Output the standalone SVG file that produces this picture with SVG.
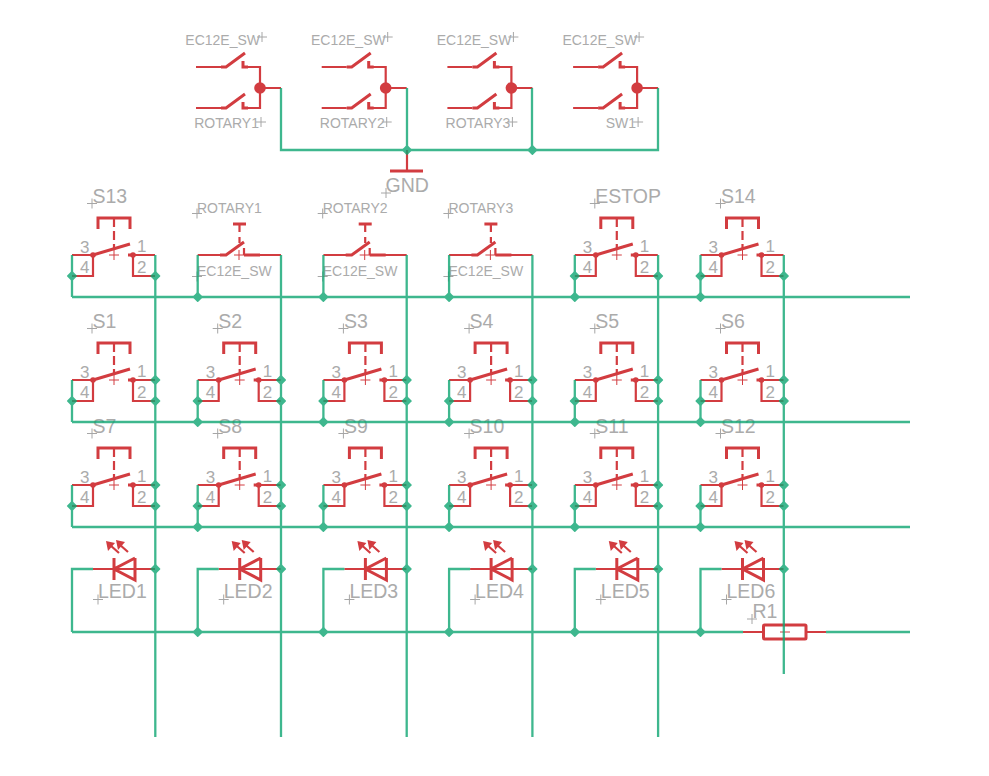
<svg xmlns="http://www.w3.org/2000/svg" width="989" height="776" viewBox="0 0 989 776">
<style>
.r{fill:none;stroke:#D23C40;stroke-width:2.2}
.t{fill:none;stroke:#D23C40;stroke-width:3}
.f{fill:#D23C40;stroke:none}
.c{fill:none;stroke:#A6A6A6;stroke-width:1}
.rc{fill:none;stroke:#D23C40;stroke-width:1}
text{fill:#ABABAB;font-family:"Liberation Sans",Arial,sans-serif}
.n{font-size:19.500px}
.s{font-size:14px}
.p{font-size:17px}
.e{text-anchor:end}
.w{fill:none;stroke:#0FA673;stroke-width:2.3}
.j{fill:#0FA673}
</style>
<defs>
<g id="sw">
<path class="r" d="M72 255H93V276H72M155 255H133V276H155"/>
<path class="t" d="M93 255L130 244M128 255H133M98 229V218H130V229"/>
<path class="r" stroke-dasharray="9 4" d="M114 218V250"/>
<circle class="f" cx="93" cy="255" r="2.800"/><circle class="f" cx="133" cy="255" r="2.800"/>
<path class="rc" d="M109 255H119M114 250V260"/>
<path class="c" d="M87 203.500H97M92 198.500V208.500"/>
</g>
<g id="rot">
<path class="r" d="M197.700 255H226M244 255H281M239.500 224V232M239.500 237V243M244 248V255"/>
<path class="t" d="M220 255H226L244 242M244 255H260M233 224H246"/>
<path class="rc" d="M234 255H244M239 250V260"/>
<path class="c" d="M192 213.500H202M197 208.500V218.500M192 276.500H202M197 271.500V281.500"/>
</g>
<g id="top">
<path class="r" d="M196 67H221M196 108H221M243 67H260V108H243M260 88H281"/>
<path class="t" d="M221 67H226L245 53M221 108H226L245 94M243 61V67H248M243 102V108H248"/>
<circle class="f" cx="260" cy="88" r="5.800"/>
<path class="c" d="M257 37H267M262 32V42M256 122H266M261 117V127"/>
</g>
<g id="led">
<path class="r" d="M93 569H155"/>
<path class="t" d="M114 558V580M135 558V580L114 569L135 558"/>
<path class="r" d="M119 553L110 545M128 552L119 544"/>
<path class="f" d="M106 541L115 543L108 551ZM116 540L125 542L118 550Z"/>
<path class="c" d="M93 599.500H103M98 594.500V604.500"/>
</g>
<rect id="jn" class="j" x="-3.800" y="-3.800" width="7.600" height="7.600" rx="0.800" transform="rotate(45)"/>
</defs>

<g id="SW-top">
<g id="ROTARY1-top"><use href="#top"/><text class="s e" x="260" y="45">EC12E_SW</text><text class="s e" x="259" y="128">ROTARY1</text></g>
<g id="ROTARY2-top" transform="translate(125.700,0)"><use href="#top"/><text class="s e" x="260" y="45">EC12E_SW</text><text class="s e" x="259" y="128">ROTARY2</text></g>
<g id="ROTARY3-top" transform="translate(251.400,0)"><use href="#top"/><text class="s e" x="260" y="45">EC12E_SW</text><text class="s e" x="259" y="128">ROTARY3</text></g>
<g id="SW1-top" transform="translate(377.100,0)"><use href="#top"/><text class="s e" x="260" y="45">EC12E_SW</text><text class="s e" x="259" y="128">SW1</text></g>
</g>

<g id="GND"><path class="r" d="M407 150V171"/><path class="t" d="M390 171H423"/><path class="c" d="M381 193H391M386 188V198"/><text class="n" x="385.500" y="192">GND</text></g>

<g id="S13"><use href="#sw"/><text class="n" x="92.500" y="203">S13</text><text class="p" x="80" y="253">3</text><text class="p" x="137" y="252">1</text><text class="p" x="80" y="273">4</text><text class="p" x="137" y="273">2</text></g>
<g id="ROT1"><use href="#rot"/><text class="s" x="197" y="213">ROTARY1</text><text class="s" x="197" y="276">EC12E_SW</text></g>
<g id="ROT2" transform="translate(125.700,0)"><use href="#rot"/><text class="s" x="197" y="213">ROTARY2</text><text class="s" x="197" y="276">EC12E_SW</text></g>
<g id="ROT3" transform="translate(251.400,0)"><use href="#rot"/><text class="s" x="197" y="213">ROTARY3</text><text class="s" x="197" y="276">EC12E_SW</text></g>
<g id="ESTOP" transform="translate(502.800,0)"><use href="#sw"/><text class="n" x="92.500" y="203">ESTOP</text><text class="p" x="80" y="253">3</text><text class="p" x="137" y="252">1</text><text class="p" x="80" y="273">4</text><text class="p" x="137" y="273">2</text></g>
<g id="S14" transform="translate(628.500,0)"><use href="#sw"/><text class="n" x="92.500" y="203">S14</text><text class="p" x="80" y="253">3</text><text class="p" x="137" y="252">1</text><text class="p" x="80" y="273">4</text><text class="p" x="137" y="273">2</text></g>

<g id="S1" transform="translate(0,125)"><use href="#sw"/><text class="n" x="92.500" y="203">S1</text><text class="p" x="80" y="253">3</text><text class="p" x="137" y="252">1</text><text class="p" x="80" y="273">4</text><text class="p" x="137" y="273">2</text></g>
<g id="S2" transform="translate(125.700,125)"><use href="#sw"/><text class="n" x="92.500" y="203">S2</text><text class="p" x="80" y="253">3</text><text class="p" x="137" y="252">1</text><text class="p" x="80" y="273">4</text><text class="p" x="137" y="273">2</text></g>
<g id="S3" transform="translate(251.400,125)"><use href="#sw"/><text class="n" x="92.500" y="203">S3</text><text class="p" x="80" y="253">3</text><text class="p" x="137" y="252">1</text><text class="p" x="80" y="273">4</text><text class="p" x="137" y="273">2</text></g>
<g id="S4" transform="translate(377.100,125)"><use href="#sw"/><text class="n" x="92.500" y="203">S4</text><text class="p" x="80" y="253">3</text><text class="p" x="137" y="252">1</text><text class="p" x="80" y="273">4</text><text class="p" x="137" y="273">2</text></g>
<g id="S5" transform="translate(502.800,125)"><use href="#sw"/><text class="n" x="92.500" y="203">S5</text><text class="p" x="80" y="253">3</text><text class="p" x="137" y="252">1</text><text class="p" x="80" y="273">4</text><text class="p" x="137" y="273">2</text></g>
<g id="S6" transform="translate(628.500,125)"><use href="#sw"/><text class="n" x="92.500" y="203">S6</text><text class="p" x="80" y="253">3</text><text class="p" x="137" y="252">1</text><text class="p" x="80" y="273">4</text><text class="p" x="137" y="273">2</text></g>

<g id="S7" transform="translate(0,230)"><use href="#sw"/><text class="n" x="92.500" y="203">S7</text><text class="p" x="80" y="253">3</text><text class="p" x="137" y="252">1</text><text class="p" x="80" y="273">4</text><text class="p" x="137" y="273">2</text></g>
<g id="S8" transform="translate(125.700,230)"><use href="#sw"/><text class="n" x="92.500" y="203">S8</text><text class="p" x="80" y="253">3</text><text class="p" x="137" y="252">1</text><text class="p" x="80" y="273">4</text><text class="p" x="137" y="273">2</text></g>
<g id="S9" transform="translate(251.400,230)"><use href="#sw"/><text class="n" x="92.500" y="203">S9</text><text class="p" x="80" y="253">3</text><text class="p" x="137" y="252">1</text><text class="p" x="80" y="273">4</text><text class="p" x="137" y="273">2</text></g>
<g id="S10" transform="translate(377.100,230)"><use href="#sw"/><text class="n" x="92.500" y="203">S10</text><text class="p" x="80" y="253">3</text><text class="p" x="137" y="252">1</text><text class="p" x="80" y="273">4</text><text class="p" x="137" y="273">2</text></g>
<g id="S11" transform="translate(502.800,230)"><use href="#sw"/><text class="n" x="92.500" y="203">S11</text><text class="p" x="80" y="253">3</text><text class="p" x="137" y="252">1</text><text class="p" x="80" y="273">4</text><text class="p" x="137" y="273">2</text></g>
<g id="S12" transform="translate(628.500,230)"><use href="#sw"/><text class="n" x="92.500" y="203">S12</text><text class="p" x="80" y="253">3</text><text class="p" x="137" y="252">1</text><text class="p" x="80" y="273">4</text><text class="p" x="137" y="273">2</text></g>

<g id="LED1"><use href="#led"/><text class="n" x="98" y="598">LED1</text></g>
<g id="LED2" transform="translate(125.700,0)"><use href="#led"/><text class="n" x="98" y="598">LED2</text></g>
<g id="LED3" transform="translate(251.400,0)"><use href="#led"/><text class="n" x="98" y="598">LED3</text></g>
<g id="LED4" transform="translate(377.100,0)"><use href="#led"/><text class="n" x="98" y="598">LED4</text></g>
<g id="LED5" transform="translate(502.800,0)"><use href="#led"/><text class="n" x="98" y="598">LED5</text></g>
<g id="LED6" transform="translate(628.500,0)"><use href="#led"/><text class="n" x="98" y="598">LED6</text></g>

<g id="R1"><path class="r" d="M743 632H763M806 632H826"/><rect class="t" x="763.500" y="625" width="42.500" height="14" rx="1"/><path class="rc" d="M780 632H790"/><path class="c" d="M747 619H757M752 614V624"/><text class="n" x="752.500" y="618">R1</text></g>

<g id="connectors" opacity="0.8">
<path class="w" d="M281 88V150H658V88M407 88V150M532 88V150"/>
<path class="w" d="M72 297H910M72 422H910M72 527H910M72 632H743M826 632H910"/>
<path class="w" d="M155.300 255V737M281 255V737M406.700 255V737M532.400 255V737M658.100 255V737M783.800 255V674"/>
<path class="w" d="M72 255V297M197.700 255V297M323.400 255V297M449.100 255V297M574.800 255V297M700.500 255V297"/>
<path class="w" d="M72 380V422M197.700 380V422M323.400 380V422M449.100 380V422M574.800 380V422M700.500 380V422"/>
<path class="w" d="M72 485V527M197.700 485V527M323.400 485V527M449.100 485V527M574.800 485V527M700.500 485V527"/>
<path class="w" d="M93 569H72V632M218.700 569H197.700V632M344.400 569H323.400V632M470.100 569H449.100V632M595.800 569H574.800V632M721.500 569H700.500V632"/>
<g id="junctions">
<use href="#jn" x="407" y="150"/><use href="#jn" x="532.400" y="150"/>
<use href="#jn" x="72" y="276"/><use href="#jn" x="155.300" y="276"/><use href="#jn" x="574.800" y="276"/><use href="#jn" x="658.100" y="276"/><use href="#jn" x="700.500" y="276"/><use href="#jn" x="783.800" y="276"/>
<use href="#jn" x="197.700" y="297"/><use href="#jn" x="323.400" y="297"/><use href="#jn" x="449.100" y="297"/><use href="#jn" x="574.800" y="297"/><use href="#jn" x="700.500" y="297"/>
<use href="#jn" x="155.300" y="380"/><use href="#jn" x="281" y="380"/><use href="#jn" x="406.700" y="380"/><use href="#jn" x="532.400" y="380"/><use href="#jn" x="658.100" y="380"/><use href="#jn" x="783.800" y="380"/>
<use href="#jn" x="72" y="401"/><use href="#jn" x="197.700" y="401"/><use href="#jn" x="323.400" y="401"/><use href="#jn" x="449.100" y="401"/><use href="#jn" x="574.800" y="401"/><use href="#jn" x="700.500" y="401"/>
<use href="#jn" x="155.300" y="401"/><use href="#jn" x="281" y="401"/><use href="#jn" x="406.700" y="401"/><use href="#jn" x="532.400" y="401"/><use href="#jn" x="658.100" y="401"/><use href="#jn" x="783.800" y="401"/>
<use href="#jn" x="197.700" y="422"/><use href="#jn" x="323.400" y="422"/><use href="#jn" x="449.100" y="422"/><use href="#jn" x="574.800" y="422"/><use href="#jn" x="700.500" y="422"/>
<use href="#jn" x="155.300" y="485"/><use href="#jn" x="281" y="485"/><use href="#jn" x="406.700" y="485"/><use href="#jn" x="532.400" y="485"/><use href="#jn" x="658.100" y="485"/><use href="#jn" x="783.800" y="485"/>
<use href="#jn" x="72" y="506"/><use href="#jn" x="197.700" y="506"/><use href="#jn" x="323.400" y="506"/><use href="#jn" x="449.100" y="506"/><use href="#jn" x="574.800" y="506"/><use href="#jn" x="700.500" y="506"/>
<use href="#jn" x="155.300" y="506"/><use href="#jn" x="281" y="506"/><use href="#jn" x="406.700" y="506"/><use href="#jn" x="532.400" y="506"/><use href="#jn" x="658.100" y="506"/><use href="#jn" x="783.800" y="506"/>
<use href="#jn" x="197.700" y="527"/><use href="#jn" x="323.400" y="527"/><use href="#jn" x="449.100" y="527"/><use href="#jn" x="574.800" y="527"/><use href="#jn" x="700.500" y="527"/>
<use href="#jn" x="155.300" y="569"/><use href="#jn" x="281" y="569"/><use href="#jn" x="406.700" y="569"/><use href="#jn" x="532.400" y="569"/><use href="#jn" x="658.100" y="569"/><use href="#jn" x="783.800" y="569"/>
<use href="#jn" x="197.700" y="632"/><use href="#jn" x="323.400" y="632"/><use href="#jn" x="449.100" y="632"/><use href="#jn" x="574.800" y="632"/><use href="#jn" x="700.500" y="632"/>
</g>
</g>
</svg>
